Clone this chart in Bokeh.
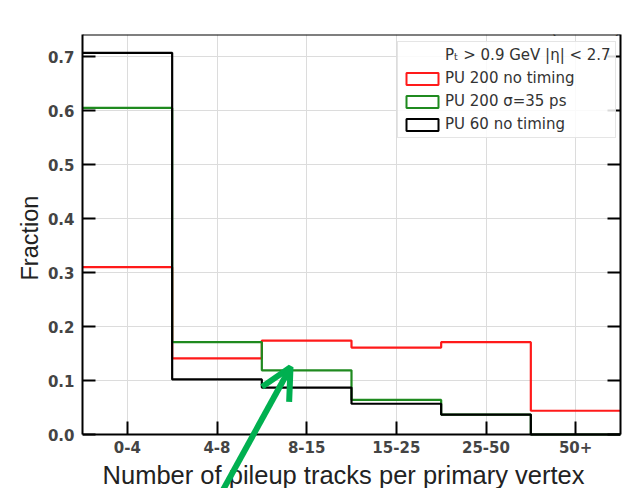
import numpy as np
from bokeh.plotting import figure
from bokeh.models import (Range1d, FixedTicker, LinearAxis, Legend, LegendItem,
                          Label, Arrow, OpenHead, NumeralTickFormatter,
                          CustomJSTickFormatter, Span, BoxAnnotation, Title)
from bokeh.embed import file_html
from bokeh.resources import INLINE

# Track multiplicity bins and the fraction of primary vertices in each
categories = ["0-4", "4-8", "8-15", "15-25", "25-50", "50+"]
pu200_no_timing = [0.310, 0.141, 0.174, 0.161, 0.171, 0.044]
pu200_timing_35ps = [0.605, 0.171, 0.119, 0.064, 0.037, 0.0]
pu60_no_timing = [0.707, 0.102, 0.087, 0.057, 0.037, 0.0]
y_ticks = [0.0, 0.1, 0.2, 0.3, 0.4, 0.5, 0.6, 0.7]

series_labels = ["PU 200 no timing", "PU 200 σ=35 ps", "PU 60 no timing"]
series_colors = ["#ff1a1a", "#1f8a1f", "#000000"]
selection_text = "Pₜ > 0.9 GeV |η| < 2.7"

# The frame runs down to the canvas bottom; the x axis sits at y = 0 and the
# strip below it holds the bin labels and the axis title.
Y_MAX = 0.741
Y_LOW = -0.100
edges = np.arange(len(categories) + 1, dtype=float)
centers = edges[:-1] + 0.5

TICK_FONT = "DejaVu Sans"
HEAD_FONT = "Liberation Sans"

W, H = 627, 488
BORDER_L, BORDER_R, BORDER_T, BORDER_B = 82, 7, 34, 0
FRAME_W = W - BORDER_L - BORDER_R
FRAME_H = H - BORDER_T - BORDER_B

p = figure(width=W, height=H, output_backend="svg", toolbar_location=None,
           title=None,
           x_range=Range1d(0, len(categories)), y_range=Range1d(Y_LOW, Y_MAX),
           min_border_left=BORDER_L, min_border_right=BORDER_R,
           min_border_top=BORDER_T, min_border_bottom=BORDER_B)
p.background_fill_color = "white"
p.border_fill_color = "white"
p.outline_line_color = None

xaxis = p.xaxis[0]
yaxis = p.yaxis[0]
xaxis.fixed_location = 0
xaxis.ticker = FixedTicker(ticks=list(centers))
xaxis.major_label_overrides = {float(c): lab for c, lab in zip(centers, categories)}
yaxis.ticker = FixedTicker(ticks=y_ticks)
yaxis.formatter = NumeralTickFormatter(format="0.0")
yaxis.bounds = (0, Y_MAX)

raxis = LinearAxis(ticker=FixedTicker(ticks=y_ticks), bounds=(0, Y_MAX),
                   formatter=CustomJSTickFormatter(code="return ''"))
p.add_layout(raxis, "right")

for ax in (xaxis, yaxis, raxis):
    ax.major_tick_in = 13
    ax.major_tick_out = 0
    ax.minor_tick_in = 0
    ax.minor_tick_out = 0
    ax.major_tick_line_width = 2
    ax.major_tick_line_color = "black"
    ax.axis_line_color = "black"
    ax.axis_line_width = 2
    ax.major_label_text_font = TICK_FONT
    ax.major_label_text_font_style = "bold"
    ax.major_label_text_font_size = "15px"
    ax.major_label_text_color = "#444444"
raxis.major_label_standoff = 0

xaxis.major_label_standoff = 6
yaxis.major_label_standoff = 8

# y-axis title, placed along the 0..Y_MAX part of the frame
p.add_layout(Title(text="Fraction", align="left", offset=208, standoff=4,
                   text_font=HEAD_FONT, text_font_style="normal",
                   text_font_size="23.5px", text_color="#222222"), "left")

# Top edge of the plotting box
p.add_layout(Span(location=Y_MAX, dimension="width", line_color="black",
                  line_width=2))

p.xgrid.ticker = FixedTicker(ticks=list(centers))
p.ygrid.ticker = FixedTicker(ticks=y_ticks)
for g in (p.xgrid, p.ygrid):
    g.grid_line_color = "#dcdcdc"
    g.grid_line_width = 1
# keep the grid out of the label strip under the x axis
p.add_layout(BoxAnnotation(top=0, fill_color="white", fill_alpha=1.0,
                           line_color=None, level="underlay"))

# Step-style histograms
all_series = [pu200_no_timing, pu200_timing_35ps, pu60_no_timing]
for vals, color in zip(all_series, series_colors):
    p.step(x=list(edges), y=list(vals) + [vals[-1]], mode="after",
           line_color=color, line_width=2.2)

# Legend swatches: outlined boxes (renderers hold no visible data)
nan = np.array([np.nan])
cut_renderer = p.quad(left=nan, right=nan, top=nan, bottom=nan,
                      fill_alpha=0, line_alpha=0)
items = [LegendItem(label=selection_text, renderers=[cut_renderer])]
for lab, color in zip(series_labels, series_colors):
    sw = p.quad(left=nan, right=nan, top=nan, bottom=nan, fill_color="white",
                line_color=color, line_width=2)
    items.append(LegendItem(label=lab, renderers=[sw]))

legend = Legend(items=items, location=(315, 350),
                label_text_font=TICK_FONT, label_text_font_size="15px",
                label_text_color="#333333",
                glyph_width=40, glyph_height=15, label_height=15,
                spacing=5, padding=4, label_standoff=3, margin=0,
                border_line_color="#cccccc", border_line_width=1,
                background_fill_color="white", background_fill_alpha=0.85)
p.add_layout(legend)

# Header texts above the frame
p.add_layout(Label(x=0, y=Y_MAX, x_offset=1, y_offset=9, text="CMS",
                   text_font=HEAD_FONT, text_font_style="bold",
                   text_font_size="20px", text_color="#111111",
                   text_baseline="alphabetic"))
p.add_layout(Label(x=0, y=Y_MAX, x_offset=58, y_offset=9,
                   text="Phase-2 Simulation", text_font=HEAD_FONT,
                   text_font_style="italic", text_font_size="19px",
                   text_color="#333333", text_baseline="alphabetic"))
p.add_layout(Label(x=len(categories), y=Y_MAX, x_offset=3, y_offset=9,
                   text="(14 TeV)", text_font=HEAD_FONT,
                   text_font_style="italic", text_font_size="19px",
                   text_color="#333333", text_align="right",
                   text_baseline="alphabetic"))

# x-axis title
p.add_layout(Label(x=len(categories) / 2, y=0, x_offset=-8, y_offset=-40,
                   text="Number of pileup tracks per primary vertex",
                   text_font=HEAD_FONT, text_font_size="25.5px",
                   text_color="#222222", text_align="center",
                   text_baseline="alphabetic"))


def to_data(px, py):
    """Canvas pixel position -> data coordinates of this frame."""
    return ((px - BORDER_L) / FRAME_W * len(categories),
            Y_LOW + (H - BORDER_B - py) / FRAME_H * (Y_MAX - Y_LOW))


# Highlight arrow pointing at the 8-15 bin
ARROW_GREEN = "#00b050"
xs0, ys0 = to_data(220.0, 494.0)
xs1, ys1 = to_data(290.0, 366.7)
arrow = Arrow(end=OpenHead(size=31, line_color=ARROW_GREEN, line_width=6),
              x_start=xs0, y_start=ys0, x_end=xs1, y_end=ys1,
              line_color=ARROW_GREEN, line_width=6, level="overlay")
p.add_layout(arrow)

open("out.html", "w").write(file_html(p, INLINE))
